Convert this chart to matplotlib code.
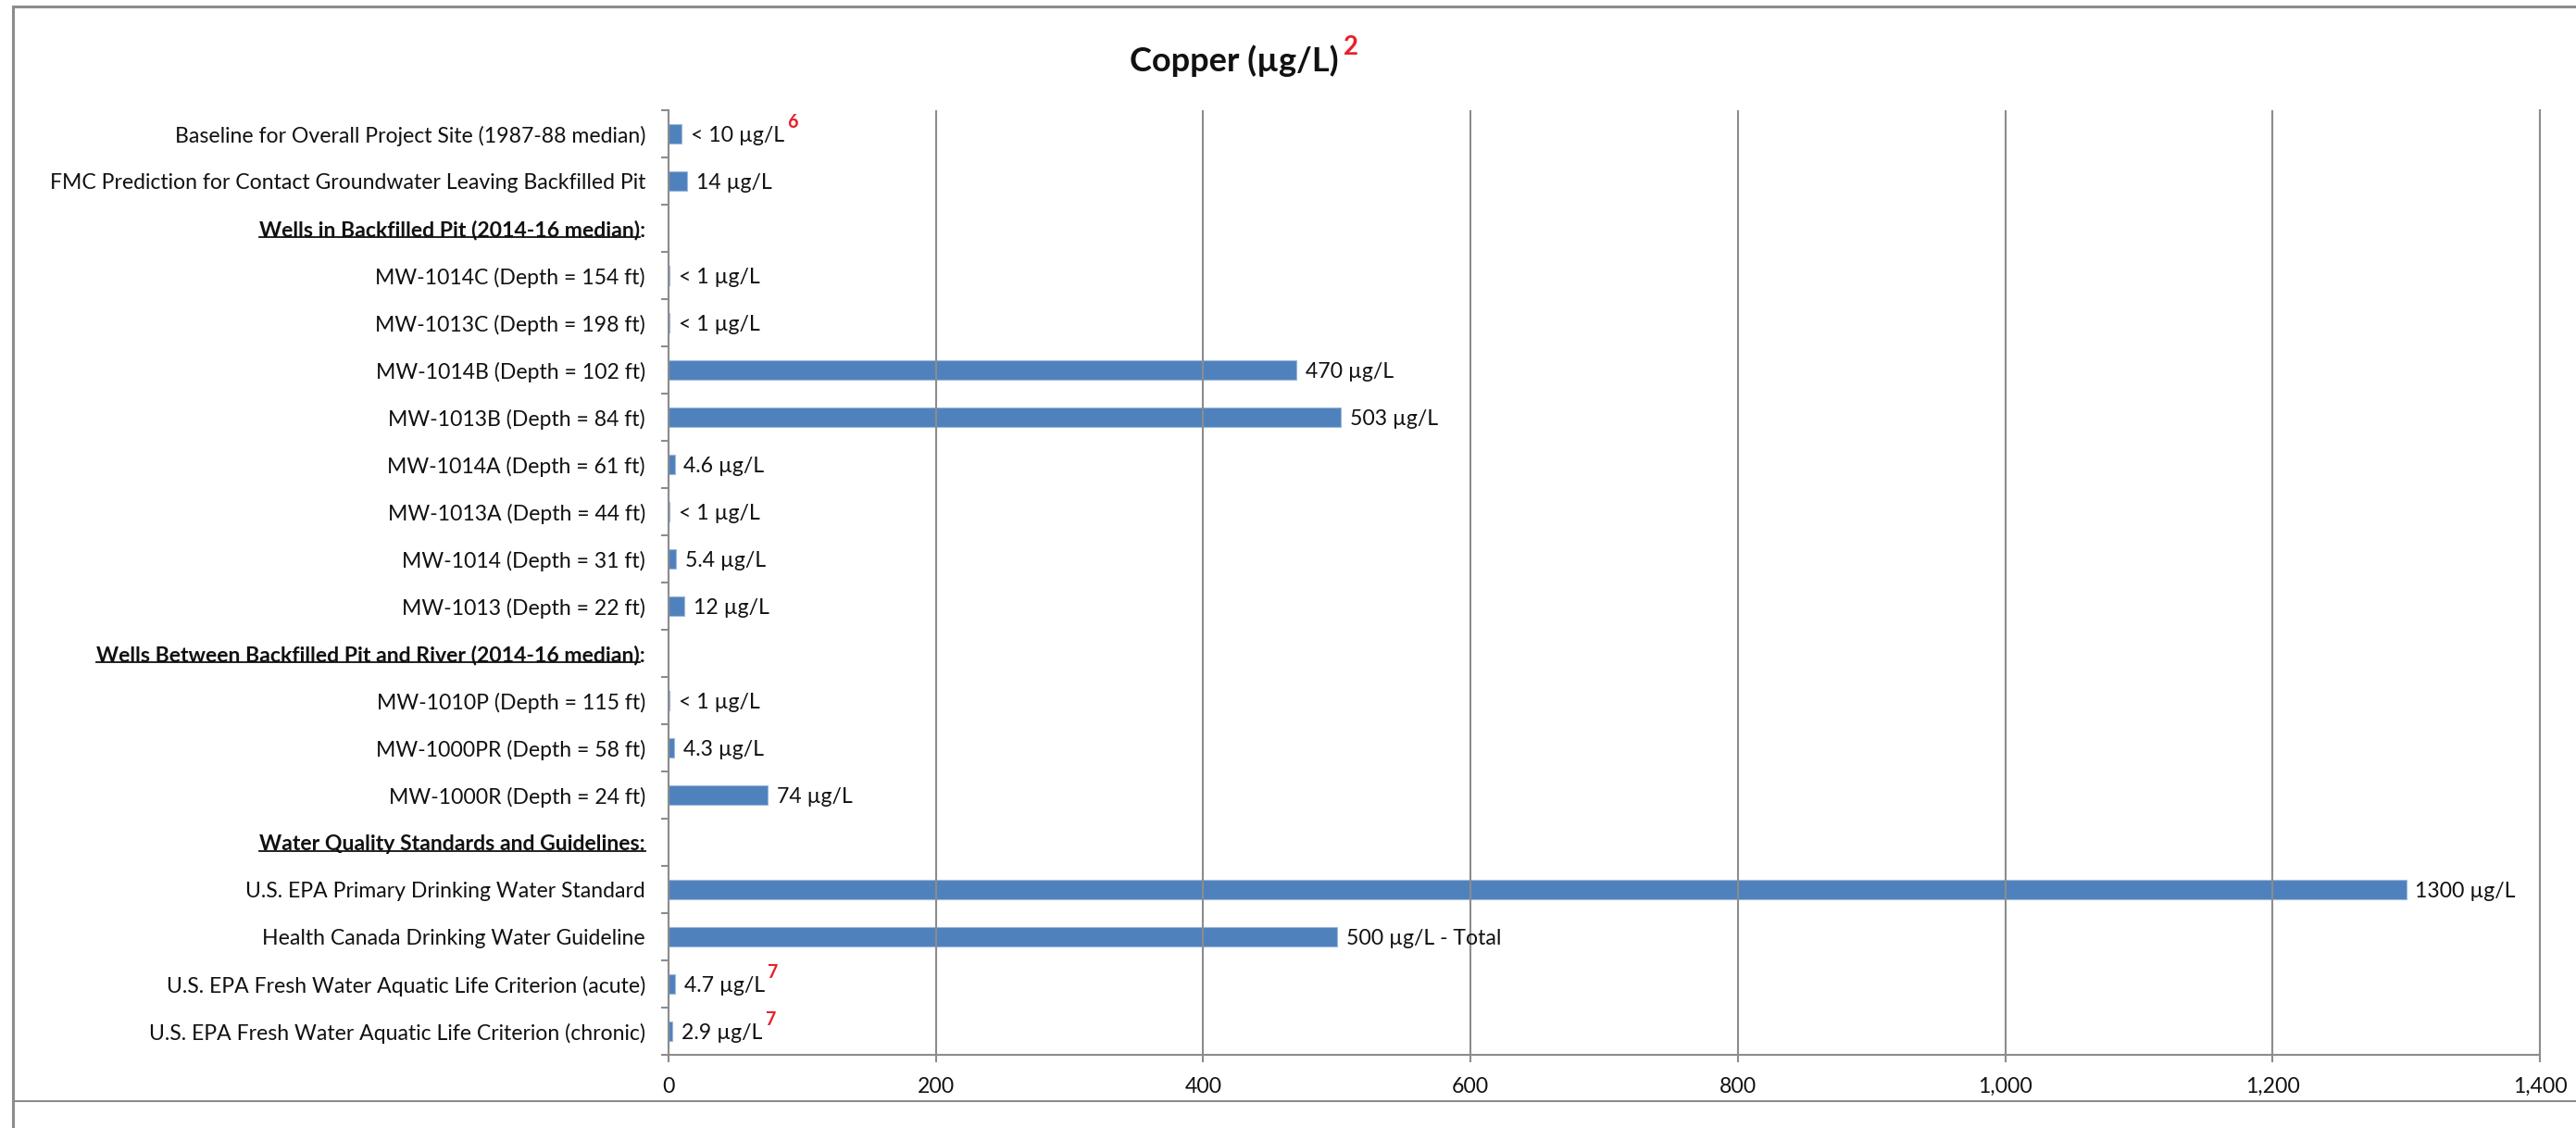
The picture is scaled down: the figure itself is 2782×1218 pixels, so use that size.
import numpy as np
import matplotlib
matplotlib.use("Agg")
import matplotlib.pyplot as plt
from matplotlib.lines import Line2D
from matplotlib.ticker import FixedLocator, FuncFormatter

plt.rcParams["font.family"] = ["Lato", "DejaVu Sans"]

# ---- data -------------------------------------------------------------
categories = [
    "Baseline for Overall Project Site (1987-88 median)",
    "FMC Prediction for Contact Groundwater Leaving Backfilled Pit",
    "Wells in Backfilled Pit (2014-16 median):",
    "MW-1014C (Depth = 154 ft)",
    "MW-1013C (Depth = 198 ft)",
    "MW-1014B (Depth = 102 ft)",
    "MW-1013B (Depth = 84 ft)",
    "MW-1014A (Depth = 61 ft)",
    "MW-1013A (Depth = 44 ft)",
    "MW-1014 (Depth = 31 ft)",
    "MW-1013 (Depth = 22 ft)",
    "Wells Between Backfilled Pit and River (2014-16 median):",
    "MW-1010P (Depth = 115 ft)",
    "MW-1000PR (Depth = 58 ft)",
    "MW-1000R (Depth = 24 ft)",
    "Water Quality Standards and Guidelines:",
    "U.S. EPA Primary Drinking Water Standard",
    "Health Canada Drinking Water Guideline",
    "U.S. EPA Fresh Water Aquatic Life Criterion (acute)",
    "U.S. EPA Fresh Water Aquatic Life Criterion (chronic)",
]

# copper concentration in µg/L (None = section heading row)
values = [10, 14, None, 1, 1, 470, 503, 4.6, 1, 5.4, 12,
          None, 1, 4.3, 74, None, 1300, 500, 4.7, 2.9]

value_labels = ["< 10 µg/L", "14 µg/L", "", "< 1 µg/L", "< 1 µg/L",
                "470 µg/L", "503 µg/L", "4.6 µg/L", "< 1 µg/L", "5.4 µg/L",
                "12 µg/L", "", "< 1 µg/L", "4.3 µg/L", "74 µg/L", "",
                "1300 µg/L", "500 µg/L - Total", "4.7 µg/L", "2.9 µg/L"]

footnotes = ["6", "", "", "", "", "", "", "", "", "", "",
             "", "", "", "", "", "", "", "7", "7"]

x_ticks = [0, 200, 400, 600, 800, 1000, 1200, 1400]

# ---- styling ----------------------------------------------------------
BAR = "#4F81BD"
GRID = "#8C8C8C"
NOTE = "#E8202A"
FS = 16.6

W, H = 2782, 1218
fig = plt.figure(figsize=(W / 100, H / 100), dpi=100)
fig.patch.set_facecolor("white")

x0, x1 = 722 / W, 2743 / W
y_top, y_bot = 119 / H, 1139 / H
ax = fig.add_axes([x0, 1 - y_bot, x1 - x0, y_bot - y_top])

n = len(categories)
pos = np.arange(n)
heading = [v is None for v in values]
bar_pos = [p for p, v in zip(pos, values) if v is not None]
bar_val = [v for v in values if v is not None]

ax.barh(bar_pos, bar_val, height=0.4, color=BAR,
        edgecolor="#9DB9DC", linewidth=0.8, zorder=2)

ax.set_xlim(0, x_ticks[-1])
ax.set_ylim(n - 0.5, -0.5)

# vertical gridlines drawn over the bars
ax.xaxis.set_major_locator(FixedLocator(x_ticks))
ax.xaxis.set_major_formatter(FuncFormatter(lambda v, _: f"{int(v):,}"))
ax.grid(axis="x", color=GRID, linewidth=1.5, zorder=3)
ax.set_axisbelow(False)

ax.spines["top"].set_visible(False)
for side in ("left", "bottom", "right"):
    ax.spines[side].set_color(GRID)
    ax.spines[side].set_linewidth(1.5)
    ax.spines[side].set_zorder(4)

ax.tick_params(axis="x", direction="out", length=5.5, width=1.5,
               color=GRID, pad=12, labelsize=FS, labelcolor="#111111")

# category separators as major ticks, names on minor ticks at row centres
ax.yaxis.set_major_locator(FixedLocator(np.arange(n + 1) - 0.5))
ax.yaxis.set_major_formatter(FuncFormatter(lambda v, _: ""))
ax.yaxis.set_minor_locator(FixedLocator(pos))
ax.set_yticklabels(categories, minor=True)
ax.tick_params(axis="y", which="major", direction="out", length=6,
               width=1.5, color=GRID)
ax.tick_params(axis="y", which="minor", length=0, pad=18,
               labelsize=FS, labelcolor="#111111")

ylabels = ax.get_yticklabels(minor=True)
for lab, h in zip(ylabels, heading):
    if h:
        lab.set_fontweight("bold")

# value labels with red footnote markers
for p, v, txt, note in zip(pos, values, value_labels, footnotes):
    if v is None:
        continue
    t = ax.annotate(txt, xy=(v, p), xytext=(7, 0), textcoords="offset points",
                    ha="left", va="center_baseline", fontsize=FS,
                    color="#111111", zorder=5)
    if note:
        ax.annotate(note, xy=(1.0, 0.7), xycoords=t, xytext=(2, 0),
                    textcoords="offset points", ha="left", va="bottom",
                    fontsize=FS * 0.85, color=NOTE, fontweight="bold")

# title with footnote marker
title = fig.text(1333 / W, 1 - 66 / H, "Copper (µg/L)", ha="center",
                 va="center", fontsize=26, fontweight="bold", color="#111111")
fig.add_artist(
    plt.Annotation("2", xy=(1.0, 0.55), xycoords=title, xytext=(4, 0),
                   textcoords="offset points", ha="left", va="bottom",
                   fontsize=20, fontweight="bold", color=NOTE))

# outer frame
frame_kw = dict(color="#8C8C8C", transform=fig.transFigure, zorder=10)
fig.add_artist(Line2D([14 / W, 14 / W], [0, 1 - 7 / H], linewidth=2.2, **frame_kw))
fig.add_artist(Line2D([14 / W, 1], [1 - 7 / H, 1 - 7 / H], linewidth=2.2, **frame_kw))
fig.add_artist(Line2D([14 / W, 1], [1 - 1189 / H, 1 - 1189 / H], linewidth=1.5, **frame_kw))

# underline the section headings
fig.canvas.draw()
renderer = fig.canvas.get_renderer()
for lab, h in zip(ylabels, heading):
    if not h:
        continue
    bb = lab.get_window_extent(renderer)
    end = bb.x1
    if not lab.get_text().startswith("Water"):
        probe = fig.text(0, 0, ":", fontsize=FS, fontweight="bold")
        end -= probe.get_window_extent(renderer).width
        probe.remove()
    yline = bb.y0 + 3
    fig.add_artist(Line2D([bb.x0 / W, end / W], [yline / H, yline / H],
                          color="#111111", linewidth=1.3,
                          transform=fig.transFigure))

fig.savefig("out.png", dpi=100, facecolor="white")
